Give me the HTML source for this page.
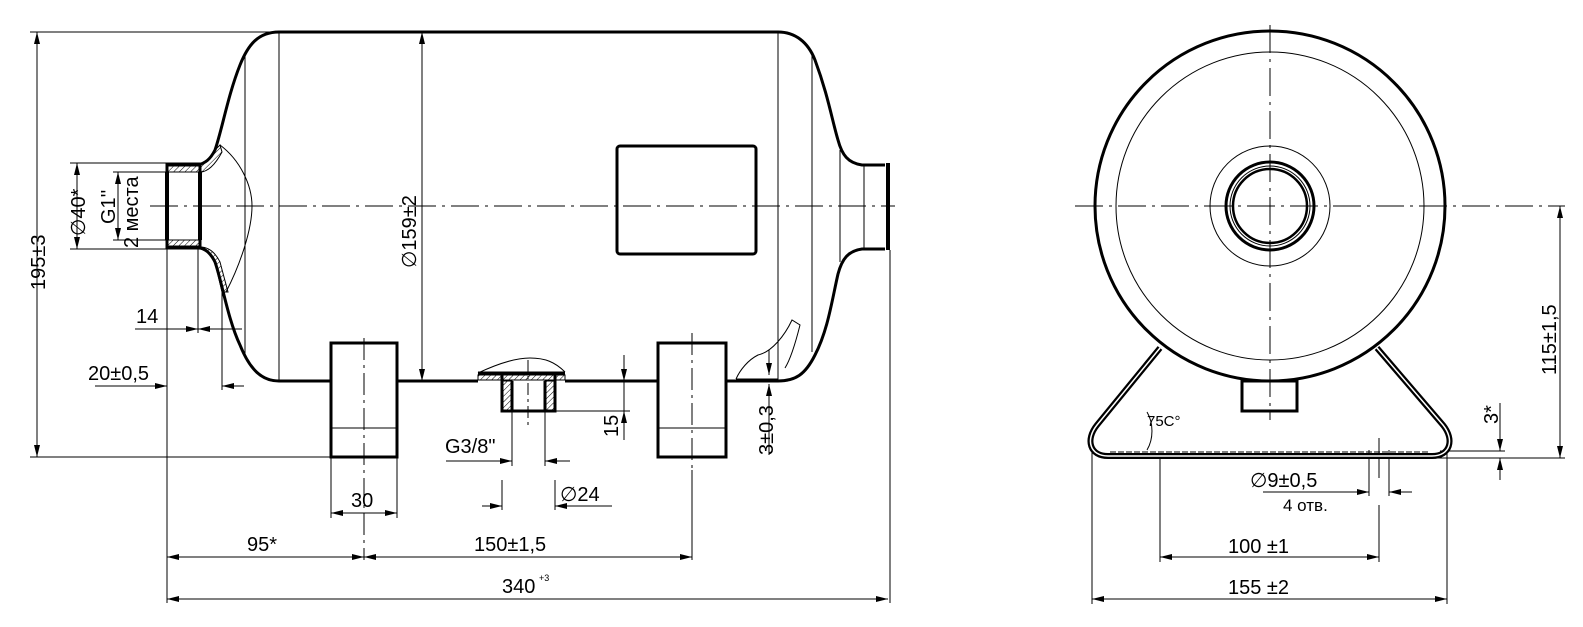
<!DOCTYPE html>
<html><head><meta charset="utf-8"><style>
html,body{margin:0;padding:0;background:#fff;}
svg{display:block;}
text{font-family:"Liberation Sans","DejaVu Sans",sans-serif;font-size:20px;font-weight:400;fill:#000;stroke:none;}
</style></head><body>
<svg width="1583" height="627" viewBox="0 0 1583 627" xmlns="http://www.w3.org/2000/svg">
<defs>
<marker id="a" viewBox="0 0 12 6" refX="12" refY="3" markerWidth="12" markerHeight="6" orient="auto-start-reverse" markerUnits="userSpaceOnUse"><path d="M0,0 L12,3 L0,6 z" fill="#000"/></marker>
<pattern id="h" width="4" height="4" patternUnits="userSpaceOnUse" patternTransform="rotate(45)"><line x1="0" y1="0" x2="0" y2="4" stroke="#000" stroke-width="1"/></pattern>
</defs>
<g fill="none" stroke="#000">
<g stroke-width="3">
<line x1="279" y1="32" x2="778" y2="32"/>
<path d="M279,32 C258,32 248,45 240,65 C228,95 222,130 215,150 C210,160 205,163 198,165 L167,165"/>
<path d="M167,247 L198,247 C205,249 210,252 215,262 C222,282 228,320 240,345 C250,370 262,381 279,381"/>
<rect x="167" y="165" width="33" height="82"/>
<line x1="167" y1="172" x2="167" y2="240" stroke-width="4"/>
<line x1="200" y1="172" x2="200" y2="240" stroke-width="4"/>
<path d="M778,32 C795,32 808,42 815,60 C828,95 832,120 838,140 C842,155 848,163 862,165 L885,165"/>
<path d="M885,249 L862,249 C848,251 842,259 838,274 C832,300 828,330 815,355 C805,375 795,381 778,381"/>
<line x1="888" y1="163" x2="888" y2="250" stroke-width="4"/>
<line x1="279" y1="381" x2="331" y2="381"/>
<line x1="397" y1="381" x2="478" y2="381"/>
<line x1="565" y1="381" x2="658" y2="381"/>
<line x1="726" y1="381" x2="778" y2="381"/>
<rect x="331" y="343" width="66" height="114"/>
<rect x="658" y="343" width="68" height="114"/>
<rect x="617" y="146" width="139" height="108" rx="3"/>
<path d="M478,373 L565,373 M502,373 L502,411 L555,411 L555,373 M512,381 L512,411 M545,381 L545,411"/>
</g>
<path d="M200,165 L198,165 C205,163 210,160 215,150 L220,145 L222,152 C215,165 208,172 200,172 Z" fill="url(#h)" stroke-width="1"/>
<path d="M200,247 C208,247 215,252 220,262 L228,292 L222,292 L215,262 C210,252 205,249 198,249 Z" fill="url(#h)" stroke-width="1"/>
<rect x="167" y="163" width="33" height="9" fill="url(#h)" stroke-width="1"/>
<rect x="167" y="240" width="33" height="9" fill="url(#h)" stroke-width="1"/>
<rect x="502" y="381" width="10" height="30" fill="url(#h)" stroke-width="1"/>
<rect x="545" y="381" width="10" height="30" fill="url(#h)" stroke-width="1"/>
<rect x="478" y="375" width="87" height="5" fill="url(#h)" stroke-width="1"/>
<g stroke-width="1">
<path d="M220,145 C240,160 252,185 252,206 C252,230 240,265 226,292"/>
<path d="M478,373 C495,365 515,358 530,358 C545,358 555,362 565,372"/>
<path d="M736,379 C740,370 748,360 758,355 C772,352 785,335 792,320 L800,325 C795,345 790,360 785,368"/>
<path d="M736,379 L778,379"/>
<line x1="245" y1="55" x2="245" y2="355"/>
<line x1="279" y1="32" x2="279" y2="381"/>
<line x1="778" y1="32" x2="778" y2="381"/>
<line x1="812" y1="55" x2="812" y2="352"/>
<line x1="840" y1="150" x2="840" y2="262"/>
<line x1="864" y1="165" x2="864" y2="249"/>
<line x1="331" y1="428" x2="397" y2="428"/>
<line x1="658" y1="428" x2="726" y2="428"/>
<line x1="150" y1="206" x2="895" y2="206" stroke-dasharray="28,6,3,6"/>
<line x1="364" y1="338" x2="364" y2="560" stroke-dasharray="22,5,3,5"/>
<line x1="692" y1="333" x2="692" y2="470" stroke-dasharray="22,5,3,5"/>
<line x1="528" y1="360" x2="528" y2="425" stroke-dasharray="12,4,3,4"/>
<line x1="30" y1="32" x2="279" y2="32"/>
<line x1="30" y1="457" x2="331" y2="457"/>
<line x1="37" y1="32" x2="37" y2="457" marker-start="url(#a)" marker-end="url(#a)"/>
<line x1="70" y1="163" x2="167" y2="163"/>
<line x1="70" y1="249" x2="167" y2="249"/>
<line x1="77" y1="163" x2="77" y2="249" marker-start="url(#a)" marker-end="url(#a)"/>
<line x1="113" y1="172" x2="167" y2="172"/>
<line x1="113" y1="240" x2="167" y2="240"/>
<line x1="118" y1="172" x2="118" y2="240" marker-start="url(#a)" marker-end="url(#a)"/>
<line x1="422" y1="32" x2="422" y2="381" marker-start="url(#a)" marker-end="url(#a)"/>
<line x1="167" y1="249" x2="167" y2="603"/>
<line x1="198" y1="249" x2="198" y2="333"/>
<line x1="222" y1="292" x2="222" y2="390"/>
<line x1="135" y1="329" x2="167" y2="329"/>
<line x1="167" y1="329" x2="198" y2="329" marker-end="url(#a)"/>
<line x1="242" y1="329" x2="198" y2="329" marker-end="url(#a)"/>
<line x1="95" y1="386" x2="167" y2="386" marker-end="url(#a)"/>
<line x1="244" y1="386" x2="222" y2="386" marker-end="url(#a)"/>
<line x1="331" y1="457" x2="331" y2="518"/>
<line x1="397" y1="457" x2="397" y2="518"/>
<line x1="331" y1="513" x2="397" y2="513" marker-start="url(#a)" marker-end="url(#a)"/>
<line x1="512" y1="411" x2="512" y2="466"/>
<line x1="545" y1="411" x2="545" y2="466"/>
<line x1="446" y1="461" x2="512" y2="461" marker-end="url(#a)"/>
<line x1="570" y1="461" x2="545" y2="461" marker-end="url(#a)"/>
<line x1="502" y1="480" x2="502" y2="510"/>
<line x1="555" y1="480" x2="555" y2="510"/>
<line x1="482" y1="506" x2="502" y2="506" marker-end="url(#a)"/>
<line x1="612" y1="506" x2="555" y2="506" marker-end="url(#a)"/>
<line x1="555" y1="411" x2="630" y2="411"/>
<line x1="624" y1="355" x2="624" y2="381" marker-end="url(#a)"/>
<line x1="624" y1="440" x2="624" y2="411" marker-end="url(#a)"/>
<line x1="624" y1="381" x2="624" y2="411"/>
<line x1="769" y1="350" x2="769" y2="375" marker-end="url(#a)"/>
<line x1="769" y1="455" x2="769" y2="384" marker-end="url(#a)"/>
<line x1="692" y1="470" x2="692" y2="560"/>
<line x1="167" y1="557" x2="364" y2="557" marker-start="url(#a)" marker-end="url(#a)"/>
<line x1="364" y1="557" x2="692" y2="557" marker-start="url(#a)" marker-end="url(#a)"/>
<line x1="890" y1="250" x2="890" y2="603"/>
<line x1="167" y1="599" x2="888" y2="599" marker-start="url(#a)" marker-end="url(#a)"/>
<line x1="1075" y1="206" x2="1565" y2="206" stroke-dasharray="28,6,3,6"/>
<line x1="1270" y1="25" x2="1270" y2="420" stroke-dasharray="28,6,3,6"/>
<circle cx="1270" cy="206" r="154"/>
<circle cx="1270" cy="206" r="60"/>
<circle cx="1270" cy="206" r="40"/>
<path d="M1147,412 A22,30 0 0 1 1147,450"/>
<line x1="1160" y1="457" x2="1160" y2="562"/>
<line x1="1379" y1="438" x2="1379" y2="478"/>
<line x1="1379" y1="505" x2="1379" y2="562"/>
<line x1="1369" y1="450" x2="1369" y2="496"/>
<line x1="1389" y1="450" x2="1389" y2="496"/>
<line x1="1263" y1="492" x2="1369" y2="492" marker-end="url(#a)"/>
<line x1="1412" y1="492" x2="1389" y2="492" marker-end="url(#a)"/>
<line x1="1160" y1="557" x2="1379" y2="557" marker-start="url(#a)" marker-end="url(#a)"/>
<line x1="1092" y1="440" x2="1092" y2="604"/>
<line x1="1447" y1="440" x2="1447" y2="604"/>
<line x1="1092" y1="599" x2="1447" y2="599" marker-start="url(#a)" marker-end="url(#a)"/>
<line x1="1440" y1="451" x2="1505" y2="451"/>
<line x1="1430" y1="458" x2="1565" y2="458"/>
<line x1="1500" y1="403" x2="1500" y2="451" marker-end="url(#a)"/>
<line x1="1500" y1="480" x2="1500" y2="458" marker-end="url(#a)"/>
<line x1="1560" y1="206" x2="1560" y2="458" marker-start="url(#a)" marker-end="url(#a)"/>
</g>
<g fill="none" stroke="#000" stroke-width="3">
<circle cx="1270" cy="206" r="175"/>
<circle cx="1270" cy="206" r="44"/>
<circle cx="1270" cy="206" r="37" stroke-width="2.5"/>
<rect x="1242" y="381" width="55" height="30"/>
<path d="M1160,348 L1097,425 C1085,440 1090,456 1108,456 L1432,456 C1450,456 1455,440 1443,425 L1377,348" stroke-width="6"/>
<path d="M1160,348 L1097,425 C1085,440 1090,456 1108,456 L1432,456 C1450,456 1455,440 1443,425 L1377,348" stroke="#fff" stroke-width="1.5"/>
<line x1="1110" y1="452" x2="1430" y2="452" stroke-width="1" stroke-dasharray="6,2"/>
</g>
<text transform="translate(45,290) rotate(-90)">195±3</text>
<text transform="translate(85,236) rotate(-90)">∅40*</text>
<text transform="translate(115,224) rotate(-90)">G1''</text>
<text transform="translate(138,248) rotate(-90)">2 места</text>
<text transform="translate(416,268) rotate(-90)">∅159±2</text>
<text x="136" y="323">14</text>
<text x="88" y="380">20±0,5</text>
<text x="351" y="507">30</text>
<text x="445" y="453">G3/8"</text>
<text x="560" y="501">∅24</text>
<text transform="translate(618,437) rotate(-90)">15</text>
<text transform="translate(773,455) rotate(-90)">3±0,3</text>
<text x="247" y="551">95*</text>
<text x="474" y="551">150±1,5</text>
<text x="502" y="593">340</text><text x="539" y="581" style="font-size:9px">+3</text>
<text x="1147" y="426" style="font-size:15px">75C°</text>
<text x="1250" y="487">∅9±0,5</text>
<text x="1283" y="511" style="font-size:17px">4 отв.</text>
<text x="1228" y="553">100 ±1</text>
<text x="1228" y="594">155 ±2</text>
<text transform="translate(1498,424) rotate(-90)">3*</text>
<text transform="translate(1556,375) rotate(-90)">115±1,5</text>
</svg>
</body></html>
